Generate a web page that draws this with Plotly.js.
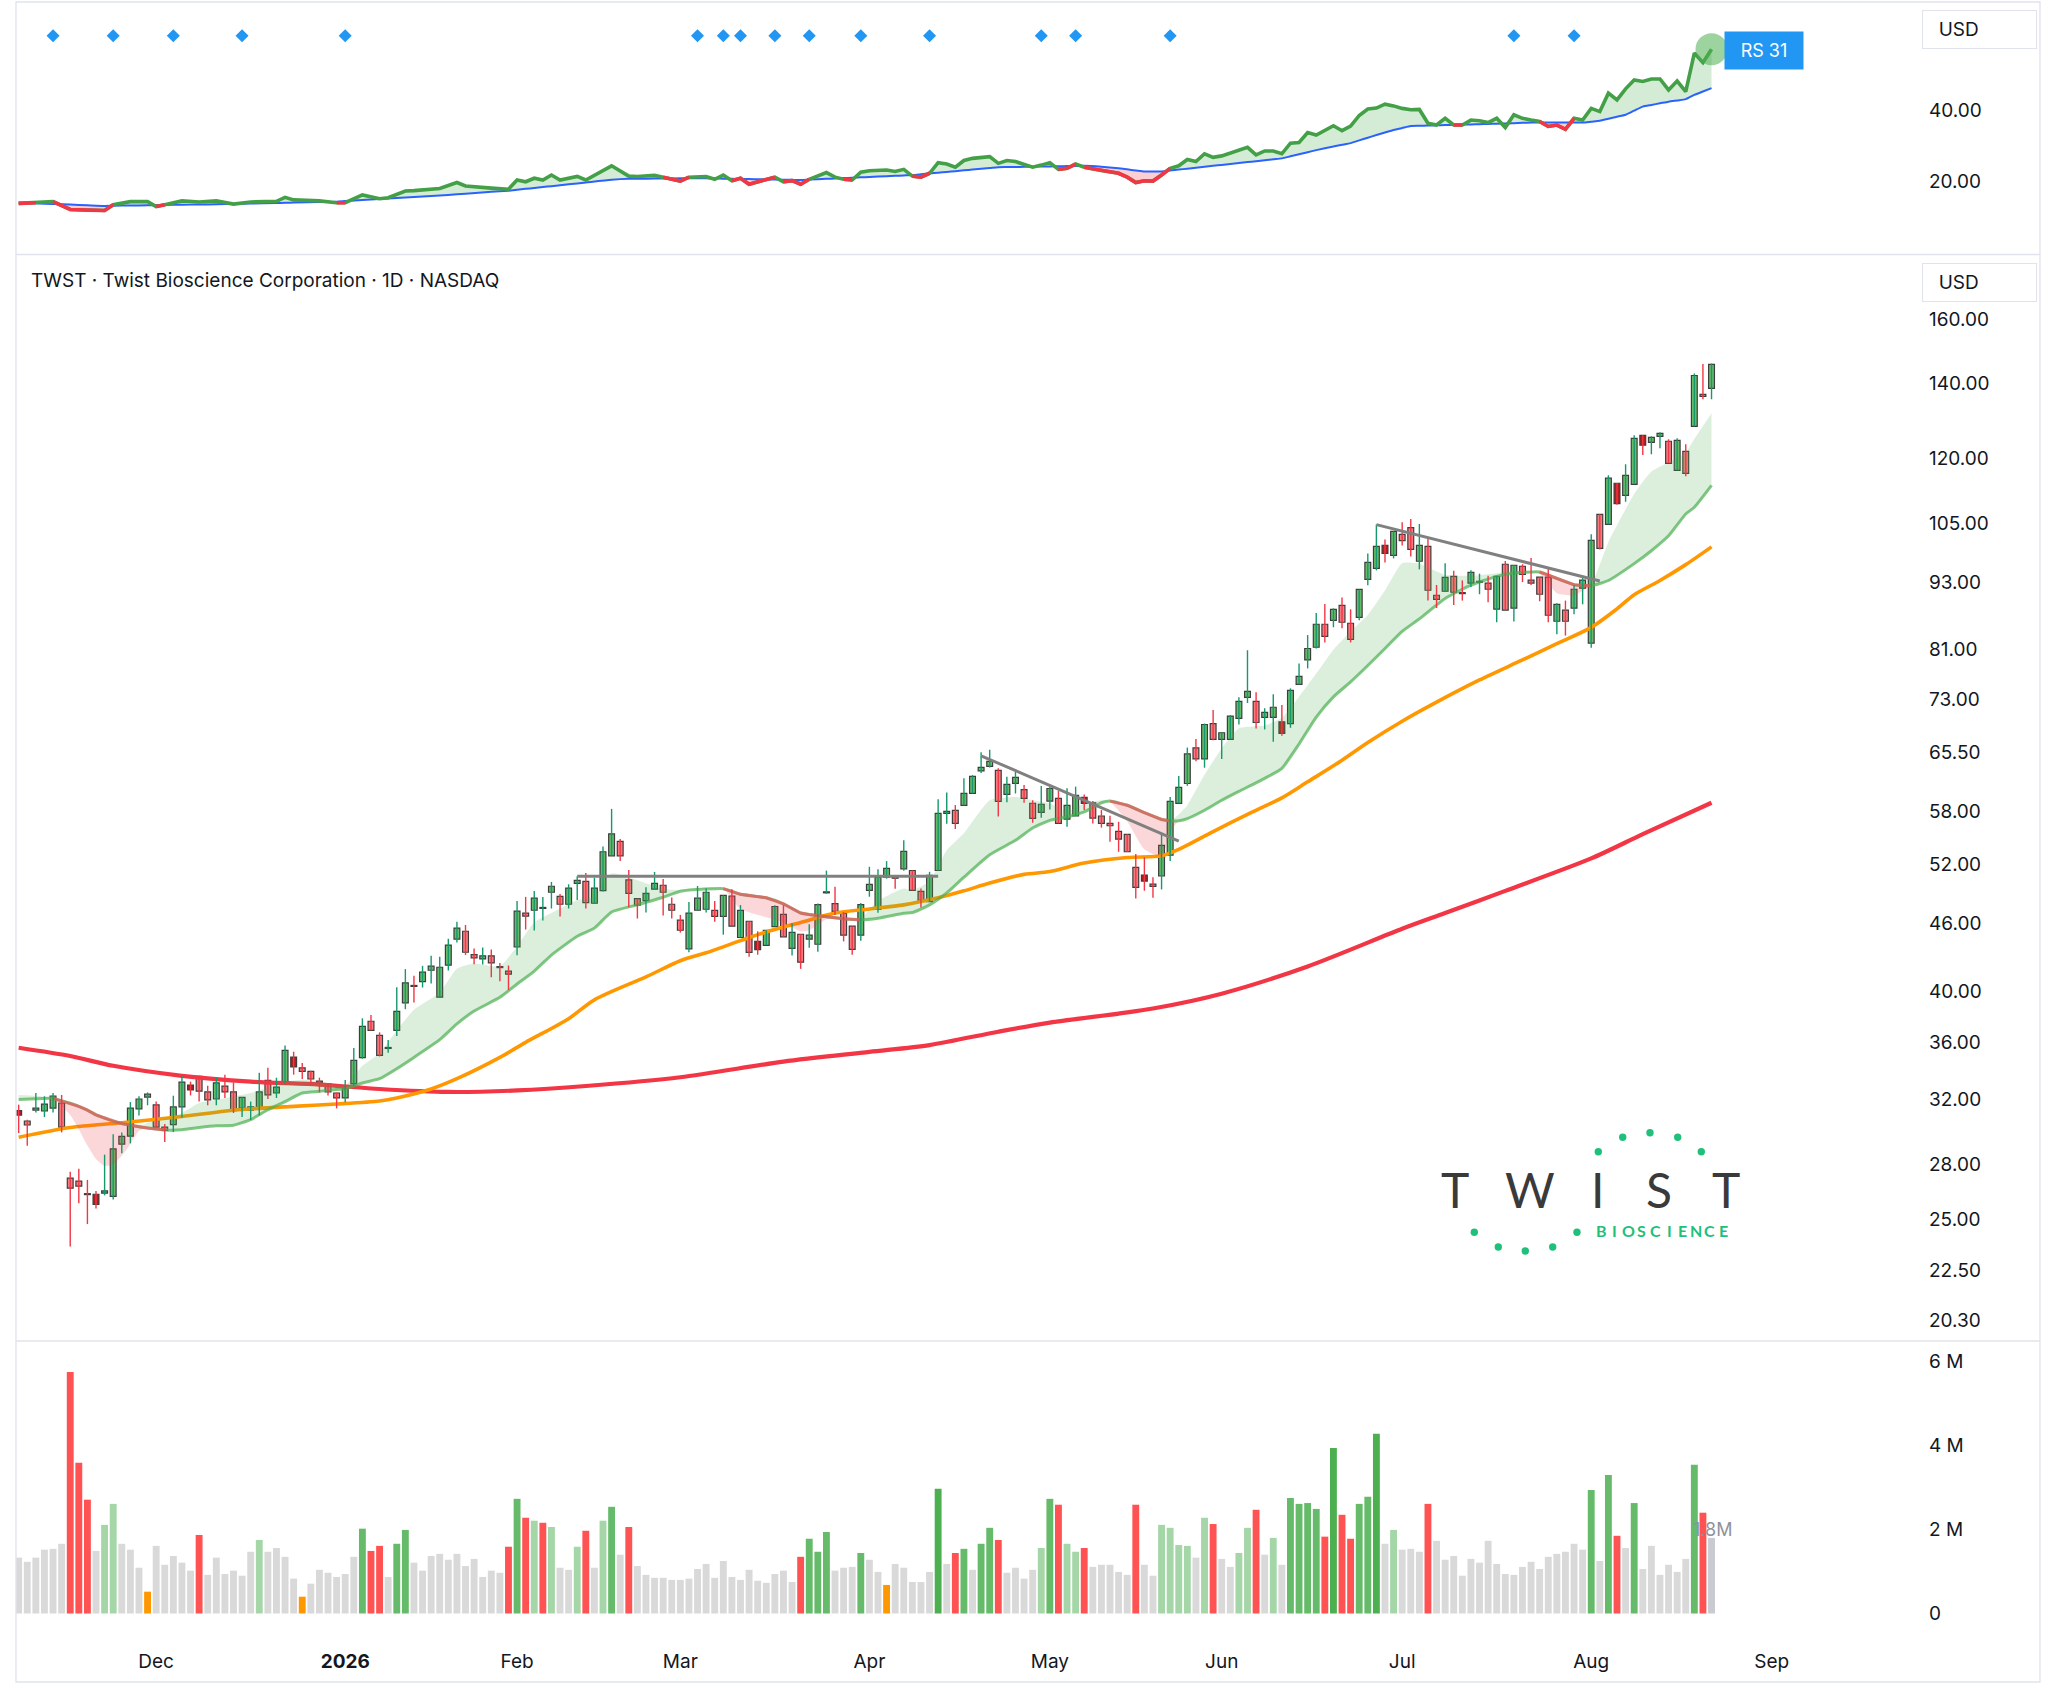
<!DOCTYPE html>
<html><head><meta charset="utf-8">
<script src="https://cdn.plot.ly/plotly-3.0.1.min.js"></script>
<style>html,body{margin:0;padding:0;background:#fff;}#chart{width:2047px;height:1683px;}</style>
</head><body><div id="chart"></div>
<script>
// ---------------- DATA ----------------
const firstSession = '2025-11-06';
const marketHolidays = ['2025-11-27','2025-12-25','2026-01-01','2026-01-19','2026-02-16','2026-04-03','2026-05-25','2026-06-19','2026-07-03','2026-09-07'];
const monthNames = ['Jan','Feb','Mar','Apr','May','Jun','Jul','Aug','Sep','Oct','Nov','Dec'];

const openP = [31.27,30.61,31.31,31.25,31.44,31.77,27.21,27.04,26.34,26.32,
26.38,26.21,29.19,29.67,31.38,32.16,31.64,30.23,30.38,31.51,
32.97,33.56,32.50,32.03,32.90,32.50,31.44,31.31,31.38,33.29,
32.43,33.17,34.93,34.15,33.91,33.24,33.04,32.43,32.10,33.04,
34.89,37.60,36.52,35.55,36.90,39.05,40.45,40.81,41.77,39.52,
42.21,44.54,45.27,43.14,42.76,43.03,42.05,41.69,43.82,46.99,
47.27,47.45,49.06,48.65,47.86,49.97,50.18,47.96,49.23,52.89,
54.49,50.32,48.42,48.22,49.37,49.77,47.86,46.31,43.65,47.27,
47.37,47.26,46.68,48.68,44.69,46.21,44.33,43.97,45.71,46.87,
43.70,44.99,44.53,44.07,49.00,47.93,46.97,45.74,44.90,49.25,
47.35,50.62,50.60,51.49,51.31,49.15,48.11,51.31,57.73,58.08,
58.68,60.14,63.00,63.59,63.07,60.03,61.40,60.63,58.94,57.84,
59.21,59.53,57.04,57.41,59.65,59.00,57.41,56.54,55.63,55.28,
51.64,50.83,49.89,50.73,52.97,58.92,61.39,66.06,64.58,69.47,
67.24,67.24,70.21,73.32,72.72,70.36,70.36,69.71,69.47,75.30,
79.21,81.30,85.25,85.95,88.63,85.43,86.48,93.52,95.65,100.30,
98.26,102.60,104.05,97.07,100.11,90.50,91.25,94.09,90.94,92.81,
92.95,92.81,87.96,96.48,88.14,96.08,93.38,93.96,93.96,85.78,
87.78,88.14,91.82,82.00,106.94,104.76,114.01,111.20,113.77,125.86,
124.06,125.60,124.32,117.10,121.77,128.21,136.95,138.66];

const highP = [31.66,30.69,32.43,32.21,32.43,32.30,27.57,27.74,27.11,26.50,
28.56,29.79,29.90,31.83,32.21,32.47,31.86,30.42,32.25,33.63,
33.20,33.61,32.92,33.52,33.68,33.15,32.14,31.86,33.81,34.16,
33.47,35.76,35.31,34.50,33.95,33.47,33.08,32.47,33.31,35.59,
37.83,38.09,36.75,36.17,40.33,41.87,41.29,42.15,43.03,42.94,
44.57,46.16,45.86,43.68,43.77,43.59,42.41,42.18,48.19,48.59,
49.19,48.59,50.11,48.89,49.87,50.70,51.05,50.56,53.91,58.26,
54.75,51.37,48.42,49.57,51.15,50.42,48.52,46.82,48.09,49.70,
49.47,48.18,48.75,49.35,47.78,46.21,45.26,45.35,47.77,47.77,
46.02,44.99,45.92,47.93,51.30,49.62,47.10,45.74,47.99,51.70,
51.43,52.31,50.65,54.62,51.31,49.45,51.17,59.42,60.26,58.72,
62.07,62.46,65.46,65.80,63.34,62.24,62.89,61.19,59.30,61.06,
60.97,60.47,60.78,60.99,60.02,59.21,58.12,57.45,56.73,55.28,
53.08,52.71,50.59,55.47,59.69,62.34,66.11,67.28,69.47,71.43,
68.16,70.70,73.32,80.80,74.08,71.69,73.78,72.17,74.70,78.64,
83.37,87.27,88.87,88.10,90.09,87.92,91.59,98.66,104.70,101.55,
103.25,105.20,105.92,104.84,101.70,92.44,96.70,95.21,93.32,95.27,
94.62,94.22,94.22,97.14,96.28,96.48,97.74,93.96,95.66,89.01,
89.51,92.39,94.09,102.62,106.94,115.90,114.01,118.55,125.86,125.86,
125.60,126.64,124.83,125.08,123.54,142.97,145.78,145.98];

const lowP = [29.86,29.09,31.16,30.86,31.16,29.90,23.63,25.84,24.75,25.56,
26.26,26.03,28.64,29.23,30.96,31.62,30.21,29.31,29.92,30.84,
32.27,31.86,31.62,31.62,32.10,31.12,30.86,30.67,30.96,32.03,
32.10,33.06,33.68,33.38,32.99,32.47,32.27,31.42,31.81,32.92,
34.80,36.90,34.97,35.24,36.47,38.55,39.08,40.31,40.64,39.52,
41.75,44.23,43.11,42.29,42.26,41.18,40.84,40.09,43.08,45.43,
45.33,46.28,47.44,46.66,47.44,48.29,47.44,47.90,49.13,52.89,
52.31,47.57,46.47,47.05,49.37,46.76,46.47,45.14,43.35,47.27,
47.05,46.16,44.95,45.74,44.69,42.96,43.13,43.97,45.71,44.75,
43.05,41.89,43.76,43.40,48.90,46.81,44.33,43.13,44.39,48.61,
47.02,50.45,49.41,51.28,49.25,47.54,48.11,51.31,56.51,55.89,
58.68,60.14,62.74,63.46,57.36,59.05,60.14,59.01,56.62,57.21,
58.19,56.55,56.16,57.41,58.12,56.54,56.05,54.44,53.33,53.33,
48.44,49.21,48.51,49.34,52.31,58.92,61.10,64.27,63.42,67.10,
64.58,67.24,69.33,72.47,68.77,68.63,66.92,67.74,68.86,75.30,
77.83,81.09,82.12,84.72,84.55,82.12,85.95,92.37,95.26,96.84,
97.65,100.30,98.01,95.47,89.51,88.14,91.25,88.69,89.51,92.05,
90.69,89.20,85.60,87.78,85.72,93.00,92.43,89.39,85.60,83.51,
83.28,87.03,88.83,81.21,99.48,104.76,109.08,109.76,113.77,120.86,
121.03,122.54,118.79,117.10,115.66,128.21,135.55,135.55];

const closeP = [30.99,30.36,31.44,31.70,32.23,30.23,26.65,26.76,26.30,25.78,
26.50,28.90,29.65,31.44,32.03,32.36,30.23,30.02,31.51,33.17,
32.63,32.56,31.97,33.11,32.50,31.27,32.14,31.51,32.50,32.30,
32.83,35.41,34.22,33.91,33.38,33.11,32.50,32.10,32.74,34.69,
37.21,36.90,35.04,35.60,38.38,40.70,40.40,41.61,42.12,42.03,
44.00,45.56,43.35,42.85,43.03,42.41,42.00,41.43,47.18,46.70,
48.46,47.49,49.67,47.86,49.47,50.28,48.02,49.47,53.33,55.33,
52.89,48.95,47.76,48.95,49.97,49.06,47.27,45.36,46.99,48.46,
49.06,46.68,48.75,45.74,47.26,43.34,43.58,45.35,47.64,44.75,
45.17,42.47,44.90,47.83,49.10,47.16,44.90,43.61,47.83,49.86,
50.59,51.53,50.50,53.37,49.25,48.24,50.79,57.73,57.96,56.55,
60.14,62.29,63.46,64.25,59.17,61.27,62.16,59.53,57.13,58.82,
60.76,56.55,58.68,59.90,58.92,57.16,56.54,56.27,54.74,53.33,
49.55,50.20,49.65,54.04,59.16,60.90,65.25,64.58,69.33,67.24,
68.16,70.55,72.72,74.24,69.62,71.09,71.84,68.06,74.39,76.56,
81.09,85.25,83.14,87.92,85.60,82.63,91.59,96.84,100.10,98.66,
103.25,101.30,99.50,100.32,91.44,89.75,93.90,91.06,90.81,94.88,
93.05,91.63,94.09,87.78,96.28,94.49,92.81,90.69,86.85,88.83,
85.78,91.63,93.38,101.36,99.69,115.20,109.31,115.90,125.08,123.30,
125.34,126.38,118.79,124.57,116.38,142.38,136.39,145.68];

const darkDownIdx = [0,9,20,32,86,124,131,147,159,186,189];

const volumeM = [1.33,1.23,1.33,1.52,1.54,1.66,5.75,3.59,2.71,1.49,
2.11,2.61,1.66,1.52,1.09,0.52,1.61,1.16,1.37,1.21,
1.02,1.87,0.92,1.33,0.94,1.02,0.90,1.47,1.75,1.47,
1.56,1.35,0.83,0.40,0.71,1.04,0.97,0.87,0.94,1.35,
2.02,1.49,1.61,0.87,1.66,1.99,1.21,1.02,1.37,1.42,
1.28,1.42,1.13,1.30,0.87,1.02,0.97,1.59,2.73,2.28,
2.21,2.16,2.06,1.09,1.04,1.59,1.97,1.09,2.21,2.54,
1.40,2.06,1.13,0.92,0.85,0.85,0.80,0.80,0.83,1.06,
1.18,0.85,1.25,0.87,0.80,1.04,0.78,0.73,0.94,1.02,
0.75,1.35,1.78,1.47,1.94,1.02,1.09,1.11,1.44,1.28,
0.99,0.68,1.18,1.09,0.75,0.75,0.99,2.97,1.18,1.44,
1.54,1.04,1.66,2.04,1.75,0.97,1.09,0.83,1.04,1.56,
2.73,2.59,1.66,1.47,1.56,1.11,1.16,1.16,0.99,0.92,
2.59,1.16,0.90,2.11,2.04,1.63,1.61,1.33,2.28,2.13,
1.30,1.11,1.44,2.04,2.47,1.40,1.80,1.16,2.75,2.61,
2.63,2.49,1.83,3.94,2.35,1.78,2.61,2.78,4.28,1.66,
1.99,1.52,1.54,1.47,2.61,1.73,1.28,1.37,0.90,1.30,
1.21,1.73,1.18,0.94,0.92,1.11,1.23,1.06,1.35,1.42,
1.47,1.66,1.52,2.94,1.25,3.30,1.85,1.56,2.63,1.06,
1.61,0.92,1.16,0.99,1.30,3.54,2.40,1.80];

// n normal, d down-heavy, u up-heavy, U up-very-heavy, l light up, o dry-up, c current
const volClass = ["nnnnnnddd","nll","nnno","nnnnnd","nnnnnnl","nnnno","nnnnnnudd","nuu",
  "n".repeat(11),"dudldl","nnld","nlund","n".repeat(19),"duuu","nnnunno","nnnnnUndunuud",
  "nnnnludlld","nnnnndnn","llllnldnnlldnln","uuuudUdduuUnl","nnnd","n".repeat(18),
  "unudnu","nnnnnnudc"].join('').split('');

const ma50Idx = [0,6,12,19,25,32,37,42,44,48,51,56,59,64,67,73,77,80,84,87,91,95,99,103,107,110,113,117,120,124,129,133,135,139,143,147,150,154,157,161,165,170,175,179,183,186,188,191,194,197];
const ma50Val = [29.6,30.2,30.5,30.9,31.3,31.55,31.7,31.9,32.1,32.7,33.4,34.9,36.0,37.8,39.3,41.2,42.6,43.3,44.4,45.2,46.1,47.0,47.4,47.8,48.5,49.2,50.0,50.9,51.2,52.1,52.7,52.9,53.6,55.6,57.6,59.6,61.6,64.4,66.8,69.8,72.6,76.0,79.2,81.9,84.7,88.0,90.6,93.3,96.4,100.0];

const ma200Idx = [0,6,11,19,27,35,42,50,58,66,77,89,99,106,114,120,128,132,140,150,161,166,173,183,189,197];
const ma200Val = [35.6,35.0,34.3,33.6,33.2,33.0,32.7,32.5,32.6,32.9,33.5,34.6,35.3,35.8,36.8,37.5,38.2,38.6,39.8,42.1,45.5,47.0,49.2,52.6,55.3,59.0];

const emaIdx = [0,2,4,6,7,8,9,10,11,12,13,14,15,17,19,21,23,25,27,29,
31,33,35,37,38,40,42,44,46,49,51,53,56,58,60,62,65,67,69,72,
75,77,80,82,84,87,89,91,92,94,96,98,100,103,104,106,108,110,113,116,
118,120,122,124,126,127,129,131,133,134,135,136,138,140,142,145,147,149,151,153,
155,157,159,161,163,166,169,172,174,177,179,181,183,185,188,190,192,194,195,197];
const emaSlow = [32.0,32.05,32.07,31.75,31.55,31.3,31.0,30.8,30.6,30.45,
30.35,30.25,30.17,30.05,30.06,30.2,30.31,30.35,30.7,31.33,
31.86,32.43,32.54,32.67,32.70,33.11,33.4,34.1,34.9,36.2,
37.4,38.4,39.5,40.6,41.7,43.1,44.8,45.56,47.1,47.8,
48.55,49.16,49.38,49.42,48.85,48.5,47.9,47.0,46.85,46.65,
46.45,46.35,46.5,46.97,47.05,47.8,49.0,50.6,53.0,54.6,
56.0,56.9,57.3,57.9,59.0,59.2,58.7,57.8,57.0,56.85,
56.85,57.1,58.1,59.3,60.4,62.05,63.34,66.6,70.4,73.4,
75.7,78.3,81.1,84.0,86.2,89.9,92.4,94.1,94.7,94.95,
93.7,92.5,92.3,93.3,96.6,99.2,102.3,107.0,108.5,113.5];
const emaFast = [32.3,32.25,32.1,31.0,30.1,29.1,28.3,27.9,28.0,28.5,
29.2,30.0,30.5,30.8,31.12,31.77,31.98,32.2,32.43,32.8,
33.2,33.32,33.2,32.95,32.9,34.3,35.2,36.9,38.5,39.9,
41.9,42.35,42.1,43.9,46.1,47.0,48.25,48.62,51.0,50.3,
49.4,49.3,49.55,49.4,47.4,46.6,46.1,45.25,45.35,46.4,
46.4,46.5,48.2,49.45,49.25,50.2,53.5,55.4,59.3,59.7,
59.3,58.9,58.0,58.9,59.3,59.1,56.8,53.6,52.8,55.5,
57.6,58.7,62.5,66.0,68.8,69.2,70.3,73.4,77.0,80.9,
84.0,86.9,91.4,96.7,96.6,94.4,94.2,94.7,95.2,94.6,
90.9,90.5,92.8,101.0,111.5,116.8,119.0,121.5,124.9,131.7];

const trendAX = [65,107], trendAY = [50.7,50.7];
const trendBX = [112,135], trendBY = [65.0,54.5];
const trendCX = [158,184], trendCY = [104.7,93.2];

const rsIdx = [0,2,4,6,8,10,11,13,15,16,17,19,21,23,25,27,30,31,32,35,
37,38,40,42,43,45,46,49,51,52,55,57,58,59,60,61,62,63,65,66,
69,71,72,74,75,77,78,80,81,82,83,84,85,86,88,89,90,91,92,94,
95,96,97,98,99,101,102,103,104,105,106,107,108,109,110,111,113,114,115,116,
117,118,119,120,121,122,123,124,126,128,129,130,131,132,133,134,135,136,137,138,
139,140,143,144,145,146,147,148,149,150,151,153,154,155,156,157,158,159,160,161,
162,163,164,165,166,167,168,169,170,171,172,173,174,175,176,177,178,179,180,181,
182,183,184,185,186,187,188,189,190,191,192,193,194,195,196,197];
const rsVal = [13.7,13.9,14.2,12.0,11.8,11.7,13.3,14.2,14.2,12.8,13.3,14.4,14.1,14.4,13.5,14.1,14.3,15.4,14.7,14.4,
13.9,13.9,16.1,15.0,15.3,17.2,17.3,17.9,19.6,18.6,18.0,17.7,20.3,19.8,20.8,20.3,21.7,20.3,21.3,20.3,
24.3,21.4,21.3,21.6,21.1,20.0,21.1,21.3,20.5,21.7,20.1,20.8,19.1,19.8,21.1,19.8,20.1,19.1,20.5,22.4,
21.1,20.5,20.3,22.5,22.9,23.1,22.7,23.3,21.4,21.1,22.2,25.2,24.8,23.9,25.8,26.4,26.9,25.0,25.8,25.5,
24.8,23.9,24.5,25.2,23.3,23.6,24.8,23.9,23.0,22.2,21.1,19.6,20.1,20.0,21.7,23.6,24.3,26.1,25.5,27.7,
26.7,27.1,29.5,27.4,28.5,28.5,27.7,30.7,30.9,33.7,33.0,35.6,34.2,35.5,38.5,40.3,40.6,41.7,41.2,40.5,
40.1,40.2,36.3,35.8,37.7,35.8,35.8,37.2,37.0,36.5,37.7,35.1,38.7,37.7,37.2,36.8,35.4,35.8,34.6,37.7,
37.2,40.5,39.6,44.8,42.9,46.0,48.5,48.1,48.8,48.8,45.7,48.2,45.2,56.1,53.4,57.2];
const rsMa = [13.9,13.72,13.54,13.36,13.18,13.0,13.04,13.11,13.18,13.21,13.25,13.32,13.39,13.46,13.55,13.66,13.82,13.88,13.93,14.09,
14.2,14.35,14.64,14.93,15.08,15.37,15.51,15.95,16.27,16.44,16.96,17.3,17.55,17.81,18.06,18.32,18.57,18.82,19.33,19.58,
20.35,20.62,20.64,20.69,20.71,20.76,20.78,20.76,20.72,20.68,20.63,20.59,20.55,20.51,20.43,20.38,20.34,20.3,20.41,20.62,
20.73,20.84,20.95,21.05,21.16,21.38,21.48,21.59,21.7,21.92,22.14,22.36,22.58,22.8,23.02,23.24,23.68,23.9,23.94,23.98,
24.02,24.06,24.1,24.14,24.18,24.22,24.26,24.3,24.03,23.6,23.3,23.0,22.7,22.7,22.7,22.97,23.23,23.5,23.77,24.03,
24.3,24.56,25.35,25.61,25.88,26.14,26.4,26.98,27.56,28.14,28.72,29.77,30.23,30.7,31.47,32.23,33.0,33.7,34.4,34.95,
35.5,35.58,35.65,35.73,35.8,35.86,35.92,35.98,36.04,36.1,36.18,36.26,36.34,36.42,36.5,36.5,36.5,36.5,36.5,36.5,
36.5,36.75,37.0,37.57,38.13,38.7,39.85,41.0,41.47,41.93,42.4,42.75,43.1,44.3,45.25,46.2];
const rsSignalIdx = [4,11,18,26,38,79,82,84,88,92,98,106,119,123,134,174,181];
const rsRatingLabel = 'RS 31';
const lastVolumeLabel = '1.8M';

const priceTicks = [20.3,22.5,25,28,32,36,40,46,52,58,65.5,73,81,93,105,120,140,160];
const volTicks = [0,2,4,6];
const volTickText = ['0','2 M','4 M','6 M'];
const rsTicks = [20,40];
const titleText = 'TWST · Twist Bioscience Corporation · 1D · NASDAQ';

// ---------------- HELPERS ----------------
const FONT = 'Inter, Roboto, "Liberation Sans", sans-serif';
const TXT = '#131722';
const W = 2047, H = 1683, ML = 16, MR = 138, MT = 2, MB = 43;
const PW = W - ML - MR, PH = H - MT - MB;
const px = x => (x - ML) / PW;
const py = y => (H - MB - y) / PH;
const VOL0 = 1613.5, VOLPX = 42; // volume baseline pixel and pixels per million

function tradingCalendar(startISO, count, hol) {
  const hs = new Set(hol); const out = [];
  const d = new Date(startISO + 'T00:00:00Z');
  while (out.length < count) {
    const wd = d.getUTCDay(); const iso = d.toISOString().slice(0, 10);
    if (wd !== 0 && wd !== 6 && !hs.has(iso)) out.push(new Date(d.getTime()));
    d.setUTCDate(d.getUTCDate() + 1);
  }
  return out;
}
const days = tradingCalendar(firstSession, 222, marketHolidays);
const tickIdx = [], tickText = [];
for (let i = 1; i < days.length; i++) {
  if (days[i].getUTCMonth() !== days[i - 1].getUTCMonth()) {
    const m = days[i].getUTCMonth();
    tickIdx.push(i);
    tickText.push(m === 0 ? '<b>' + days[i].getUTCFullYear() + '</b>' : monthNames[m]);
  }
}

function maskedSegments(xs, ys, on) {
  const X = [], Y = []; let open = false;
  for (let k = 1; k < xs.length; k++) {
    if (on(k)) {
      if (!open) { X.push(xs[k - 1]); Y.push(ys[k - 1]); open = true; }
      X.push(xs[k]); Y.push(ys[k]);
    } else if (open) { X.push(null); Y.push(null); open = false; }
  }
  return { X, Y };
}

const idx = closeP.map((_, i) => i);
const darkSet = new Set(darkDownIdx);

function wickTrace(sel, color) {
  const X = [], Y = [];
  idx.filter(sel).forEach(i => { X.push(i, i, null); Y.push(lowP[i], highP[i], null); });
  return { type: 'scatter', mode: 'lines', x: X, y: Y, xaxis: 'x', yaxis: 'y2',
    line: { color: color, width: 1.4 }, hoverinfo: 'skip', connectgaps: false };
}
function bodyTrace(sel, fill) {
  const X = [], B = [], S = [];
  idx.filter(sel).forEach(i => {
    const lo = Math.min(openP[i], closeP[i]), hi = Math.max(openP[i], closeP[i]);
    X.push(i); B.push(lo); S.push(Math.max(hi - lo, lo * 0.002));
  });
  return { type: 'bar', x: X, y: S, base: B, width: 0.68, xaxis: 'x', yaxis: 'y2',
    marker: { color: fill, line: { color: '#3d3d3d', width: 1.2 } }, hoverinfo: 'skip' };
}
const isUp = i => closeP[i] >= openP[i];

// ---------------- TRACES ----------------
const traces = [];
const GREEN_FILL = 'rgba(76,175,80,0.24)', RED_FILL = 'rgba(242,54,69,0.24)';

// RS pane
const rsHi = rsVal.map((v, k) => Math.max(v, rsMa[k]));
const rsLo = rsVal.map((v, k) => Math.min(v, rsMa[k]));
traces.push({ x: rsIdx, y: rsMa, type: 'scatter', mode: 'lines', line: { width: 0 }, xaxis: 'x', yaxis: 'y', hoverinfo: 'skip' });
traces.push({ x: rsIdx, y: rsHi, type: 'scatter', mode: 'lines', line: { width: 0 }, fill: 'tonexty', fillcolor: GREEN_FILL, xaxis: 'x', yaxis: 'y', hoverinfo: 'skip' });
traces.push({ x: rsIdx, y: rsMa, type: 'scatter', mode: 'lines', line: { width: 0 }, xaxis: 'x', yaxis: 'y', hoverinfo: 'skip' });
traces.push({ x: rsIdx, y: rsLo, type: 'scatter', mode: 'lines', line: { width: 0 }, fill: 'tonexty', fillcolor: RED_FILL, xaxis: 'x', yaxis: 'y', hoverinfo: 'skip' });
traces.push({ x: rsIdx, y: rsMa, type: 'scatter', mode: 'lines', line: { color: '#2962ff', width: 2, shape: 'spline', smoothing: 0.6 }, xaxis: 'x', yaxis: 'y', hoverinfo: 'skip' });
traces.push({ x: rsIdx, y: rsVal, type: 'scatter', mode: 'lines', line: { color: '#43a047', width: 3.6 }, xaxis: 'x', yaxis: 'y', hoverinfo: 'skip' });
const rsRed = maskedSegments(rsIdx, rsVal, k => (rsVal[k] + rsVal[k - 1]) < (rsMa[k] + rsMa[k - 1]));
traces.push({ x: rsRed.X, y: rsRed.Y, type: 'scatter', mode: 'lines', line: { color: '#f23645', width: 3.6 }, connectgaps: false, xaxis: 'x', yaxis: 'y', hoverinfo: 'skip' });
traces.push({ x: rsSignalIdx, y: rsSignalIdx.map(() => 61), type: 'scatter', mode: 'markers',
  marker: { symbol: 'diamond', size: 10, color: '#2196f3' }, xaxis: 'x', yaxis: 'y', hoverinfo: 'skip' });
const lastK = rsIdx.length - 1;
traces.push({ x: [rsIdx[lastK]], y: [rsVal[lastK]], type: 'scatter', mode: 'markers',
  marker: { size: 32, color: 'rgba(76,175,80,0.55)' }, xaxis: 'x', yaxis: 'y', hoverinfo: 'skip' });

// Main pane: moving averages
traces.push({ x: ma200Idx, y: ma200Val, type: 'scatter', mode: 'lines', line: { color: '#f23645', width: 4.2, shape: 'spline', smoothing: 0.8 }, xaxis: 'x', yaxis: 'y2', hoverinfo: 'skip' });
traces.push({ x: ma50Idx, y: ma50Val, type: 'scatter', mode: 'lines', line: { color: '#ff9800', width: 3.6, shape: 'spline', smoothing: 0.8 }, xaxis: 'x', yaxis: 'y2', hoverinfo: 'skip' });
const emaHi = emaFast.map((v, k) => Math.max(v, emaSlow[k]));
const emaLo = emaFast.map((v, k) => Math.min(v, emaSlow[k]));
const SPL = { shape: 'spline', smoothing: 0.5 };
traces.push({ x: emaIdx, y: emaSlow, type: 'scatter', mode: 'lines', line: Object.assign({ width: 0 }, SPL), xaxis: 'x', yaxis: 'y2', hoverinfo: 'skip' });
traces.push({ x: emaIdx, y: emaHi, type: 'scatter', mode: 'lines', line: Object.assign({ width: 0 }, SPL), fill: 'tonexty', fillcolor: 'rgba(76,175,80,0.2)', xaxis: 'x', yaxis: 'y2', hoverinfo: 'skip' });
traces.push({ x: emaIdx, y: emaSlow, type: 'scatter', mode: 'lines', line: Object.assign({ width: 0 }, SPL), xaxis: 'x', yaxis: 'y2', hoverinfo: 'skip' });
traces.push({ x: emaIdx, y: emaLo, type: 'scatter', mode: 'lines', line: Object.assign({ width: 0 }, SPL), fill: 'tonexty', fillcolor: 'rgba(242,54,69,0.2)', xaxis: 'x', yaxis: 'y2', hoverinfo: 'skip' });
traces.push({ x: emaIdx, y: emaSlow, type: 'scatter', mode: 'lines', line: Object.assign({ width: 3, color: 'rgba(76,175,80,0.7)' }, SPL), xaxis: 'x', yaxis: 'y2', hoverinfo: 'skip' });
const emaRed = maskedSegments(emaIdx, emaSlow, k => emaSlow[k] < emaSlow[k - 1]);
traces.push({ x: emaRed.X, y: emaRed.Y, type: 'scatter', mode: 'lines', line: { width: 3, color: 'rgba(242,80,90,0.7)' }, connectgaps: false, xaxis: 'x', yaxis: 'y2', hoverinfo: 'skip' });

// candles
traces.push(wickTrace(i => isUp(i), '#14996b'));
traces.push(wickTrace(i => !isUp(i), '#f23645'));
traces.push(bodyTrace(i => isUp(i), '#66bb6a'));
traces.push(bodyTrace(i => !isUp(i) && !darkSet.has(i), '#f77c80'));
traces.push(bodyTrace(i => !isUp(i) && darkSet.has(i), '#b71c1c'));

// trend lines
[[trendAX, trendAY], [trendBX, trendBY], [trendCX, trendCY]].forEach(t => {
  traces.push({ x: t[0], y: t[1], type: 'scatter', mode: 'lines', line: { color: '#808080', width: 3 }, xaxis: 'x', yaxis: 'y2', hoverinfo: 'skip' });
});

// volume
const volColors = { n: '#d9d9d9', d: '#ff5252', u: '#66bb6a', U: '#4caf50', l: '#a5d6a7', o: '#ff9800', c: '#c8cbd1' };
traces.push({ type: 'bar', x: idx, y: volumeM, width: 0.8, xaxis: 'x', yaxis: 'y3',
  marker: { color: idx.map(i => volColors[volClass[i] || 'n']), line: { width: 0 } }, hoverinfo: 'skip' });

// ---------------- LAYOUT ----------------
const axisFont = { family: FONT, size: 19, color: TXT };
const dom = {
  rs: [py(254.5), 1],
  main: [py(1341), py(255.5)],
  vol: [0, py(1341)]
};
const pTop = 160 * Math.exp((318.9 - 255.5) / 485), pBot = 160 * Math.exp(-(1341 - 318.9) / 485);

const shapes = [];
const border = '#e0e3eb';
shapes.push({ type: 'rect', xref: 'paper', yref: 'paper', x0: px(16), x1: px(2040), y0: py(1682), y1: py(2), line: { color: border, width: 1.3 }, fillcolor: 'rgba(0,0,0,0)' });
[254.5, 1341].forEach(yy => shapes.push({ type: 'line', xref: 'paper', yref: 'paper', x0: px(16), x1: px(2040), y0: py(yy), y1: py(yy), line: { color: border, width: 1.3 } }));

// logo (pixel offsets of the reference logo)
const LX = 6, LY = 5;
const dotColor = '#1fc07a';
[[1592.3,1146.7],[1616.7,1132.3],[1644,1127.7],[1671.7,1132.3],[1695.3,1146.7],
 [1468.3,1227.3],[1492.3,1242],[1519.3,1246],[1546.7,1242],[1571,1227.3]].forEach(p => {
  const r = 3.7, cx = p[0] + LX, cy = p[1] + LY;
  shapes.push({ type: 'circle', xref: 'paper', yref: 'paper', x0: px(cx - r), x1: px(cx + r), y0: py(cy + r), y1: py(cy - r), fillcolor: dotColor, line: { width: 0 } });
});

const annotations = [];
annotations.push({ xref: 'paper', yref: 'paper', x: px(29), y: py(281), xanchor: 'left', yanchor: 'middle', text: titleText, showarrow: false, font: { family: FONT, size: 19, color: TXT } });
[29.5, 283].forEach(yy => annotations.push({ xref: 'paper', yref: 'paper', x: px(1922), y: py(yy), xanchor: 'left', yanchor: 'middle',
  text: '\u00a0\u00a0USD', showarrow: false, align: 'left', width: 103, height: 27, borderpad: 5, bordercolor: border, borderwidth: 1, bgcolor: '#ffffff',
  font: { family: FONT, size: 19, color: TXT } }));
annotations.push({ xref: 'x', yref: 'y', x: rsIdx[lastK], y: 56.8, xanchor: 'left', yanchor: 'middle', xshift: 12, text: rsRatingLabel, showarrow: false,
  bgcolor: '#2196f3', borderpad: 6, width: 66, height: 25, font: { family: FONT, size: 18, color: '#ffffff' } });
annotations.push({ xref: 'x', yref: 'y3', x: idx[idx.length - 1], y: volumeM[volumeM.length - 1], xanchor: 'center', yanchor: 'middle', xshift: 1, yshift: 8,
  text: lastVolumeLabel, showarrow: false, font: { family: FONT, size: 18, color: '#8f929b' } });
[['T',1449.3],['W',1524],['I',1591],['S',1652.7],['T',1720]].forEach(l => annotations.push({ xref: 'paper', yref: 'paper', x: px(l[1] + LX), y: py(1184 + LY), xanchor: 'center', yanchor: 'middle',
  text: l[0], showarrow: false, font: { family: 'Lato, "Open Sans", sans-serif', size: 48, color: '#3a3a3a' } }));
'BIOSCIENCE'.split('').forEach((c, k) => annotations.push({ xref: 'paper', yref: 'paper', x: px(1595 + LX + k * 13.6), y: py(1225 + LY), xanchor: 'center', yanchor: 'middle',
  text: c, showarrow: false, font: { family: 'Lato, "Open Sans", sans-serif', size: 16, color: dotColor, weight: 700 } }));

const layout = {
  width: W, height: H, margin: { l: ML, r: MR, t: MT, b: MB },
  paper_bgcolor: '#ffffff', plot_bgcolor: '#ffffff', showlegend: false, hovermode: false,
  barmode: 'overlay', dragmode: false,
  xaxis: { domain: [0, 1], anchor: 'y3', range: [-0.31, 219.98], showgrid: false, zeroline: false, showline: false,
    tickmode: 'array', tickvals: tickIdx, ticktext: tickText, ticks: '', ticklabelstandoff: 8, tickfont: axisFont, fixedrange: true },
  yaxis: { domain: dom.rs, anchor: 'x', side: 'right', range: [-0.71, 70.5], showgrid: false, zeroline: false, showline: false,
    tickmode: 'array', tickvals: rsTicks, ticktext: rsTicks.map(v => v.toFixed(2)), ticks: '', ticklabelstandoff: 19, tickfont: axisFont },
  yaxis2: { domain: dom.main, anchor: 'x', side: 'right', type: 'log', range: [Math.log10(pBot), Math.log10(pTop)], showgrid: false, zeroline: false, showline: false,
    tickmode: 'array', tickvals: priceTicks, ticktext: priceTicks.map(v => v.toFixed(2)), ticks: '', ticklabelstandoff: 19, tickfont: axisFont },
  yaxis3: { domain: dom.vol, anchor: 'x', side: 'right', range: [-(1640 - VOL0) / VOLPX, (VOL0 - 1341) / VOLPX], showgrid: false, zeroline: false, showline: false,
    tickmode: 'array', tickvals: volTicks, ticktext: volTickText, ticks: '', ticklabelstandoff: 19, tickfont: axisFont },
  shapes: shapes, annotations: annotations
};

Plotly.newPlot('chart', traces, layout, { displayModeBar: false, staticPlot: true });
</script>
</body></html>
